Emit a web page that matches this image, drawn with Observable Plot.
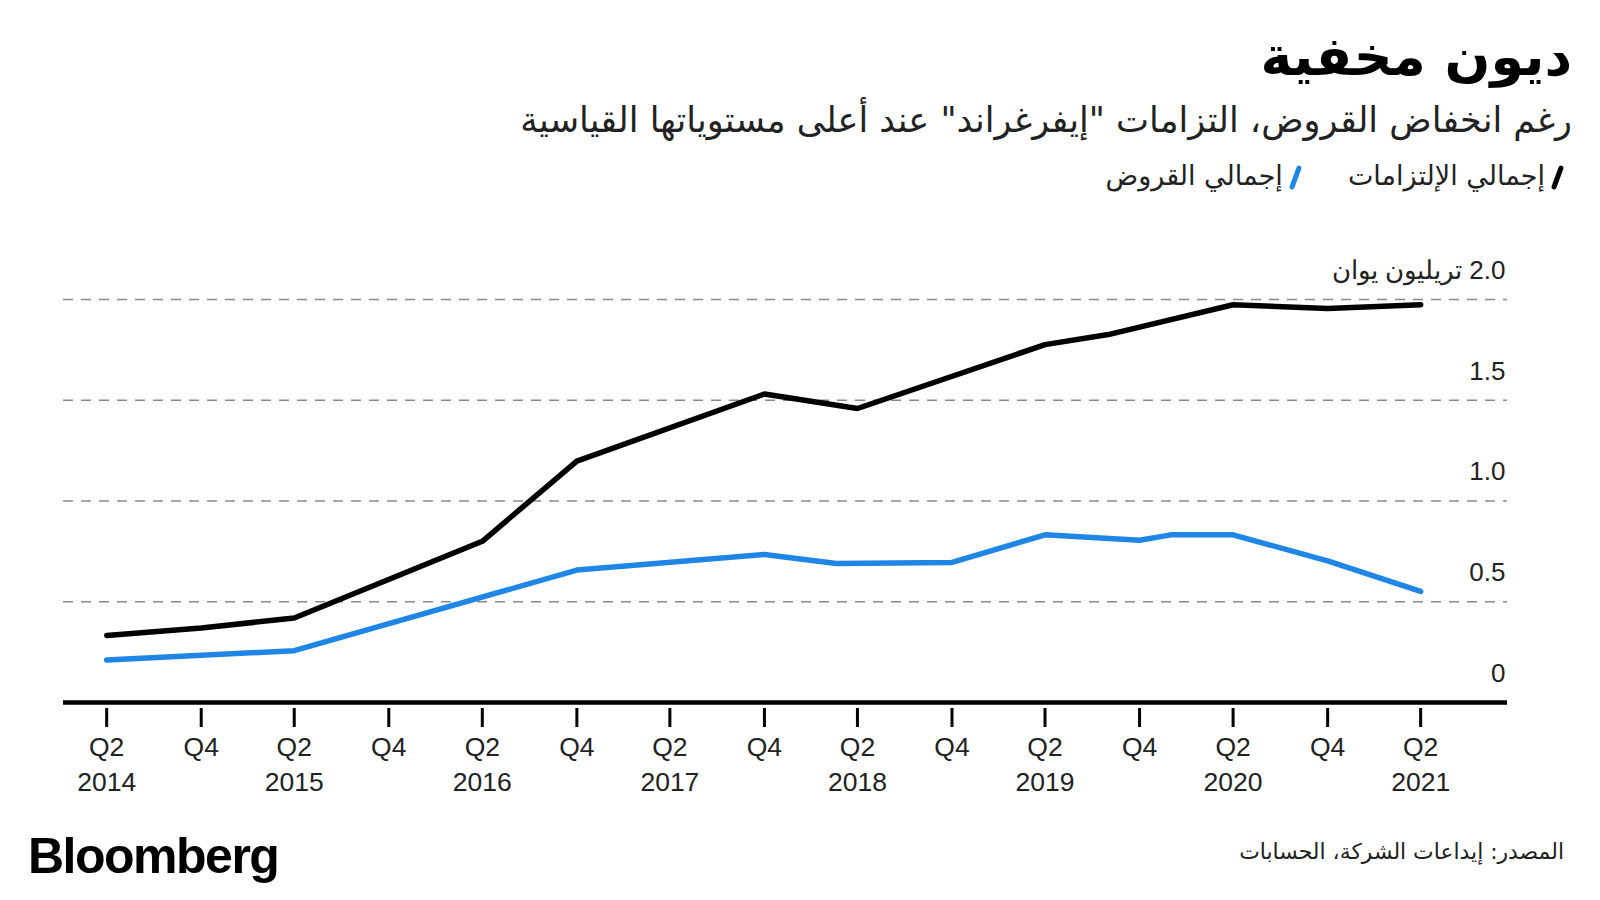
<!DOCTYPE html>
<html><head><meta charset="utf-8">
<script src="https://cdn.jsdelivr.net/npm/d3@7"></script>
<script src="https://cdn.jsdelivr.net/npm/@observablehq/plot@0.6"></script>
<style>
html,body{margin:0;padding:0;background:#fff;}
#wrap{position:relative;width:1600px;height:900px;overflow:hidden;background:#fff;}
.ar{font-family:"DejaVu Sans",sans-serif;direction:rtl;position:absolute;white-space:nowrap;line-height:normal;}
#title{right:28px;top:25px;font-size:53.8px;font-weight:bold;color:#000;}
#subtitle{right:28px;top:99px;font-size:35.1px;color:#222;}
#legend{right:40px;top:160px;font-size:27px;color:#222;display:flex;gap:50px;}
#legend .sw{display:inline-block;width:5px;height:25px;border-radius:3px;transform:rotate(20deg);margin-left:10px;vertical-align:middle;}
#source{right:36px;top:839px;font-size:21.9px;color:#222;}
#logo{position:absolute;left:28px;top:831px;font-family:"Liberation Sans",Arial,sans-serif;font-weight:bold;font-size:50px;letter-spacing:-1.5px;color:#000;line-height:1;}
#chart{position:absolute;left:0;top:240px;}
</style>
</head><body>
<div id="wrap">
  <div id="title" class="ar">ديون مخفية</div>
  <div id="subtitle" class="ar">رغم انخفاض القروض، التزامات "إيفرغراند" عند أعلى مستوياتها القياسية</div>
  <div id="legend" class="ar"><span><i class="sw" style="background:#000"></i>إجمالي الإلتزامات</span><span><i class="sw" style="background:#1f86e6"></i>إجمالي القروض</span></div>
  <div id="chart"></div>
  <div id="logo">Bloomberg</div>
  <div id="source" class="ar">المصدر: إيداعات الشركة، الحسابات</div>
</div>
<script>
// Total liabilities (trillion yuan)
const liabDates  = ["2014-06-30","2014-12-31","2015-06-30","2016-06-30","2016-12-31","2017-12-31","2018-06-30","2019-06-30","2019-10-31","2020-06-30","2020-12-31","2021-06-30"];
const liabValues = [0.333, 0.370, 0.419, 0.800, 1.198, 1.531, 1.459, 1.776, 1.826, 1.974, 1.955, 1.974];
// Total borrowings (trillion yuan)
const loanDates  = ["2014-06-30","2015-06-30","2016-12-31","2017-12-31","2018-05-20","2018-12-31","2019-06-30","2019-12-31","2020-03-01","2020-06-30","2020-12-31","2021-06-30"];
const loanValues = [0.211, 0.257, 0.657, 0.735, 0.690, 0.695, 0.832, 0.805, 0.832, 0.832, 0.703, 0.551];
// Axis ticks
const xTickDates  = ["2014-06-30","2014-12-31","2015-06-30","2015-12-31","2016-06-30","2016-12-31","2017-06-30","2017-12-31","2018-06-30","2018-12-31","2019-06-30","2019-12-31","2020-06-30","2020-12-31","2021-06-30"];
const xTickLabels = ["Q2\n2014","Q4","Q2\n2015","Q4","Q2\n2016","Q4","Q2\n2017","Q4","Q2\n2018","Q4","Q2\n2019","Q4","Q2\n2020","Q4","Q2\n2021"];
const yTicks      = [0, 0.5, 1, 1.5, 2];
const yTickLabels = ["0", "0.5", "1.0", "1.5", "\u202B2.0 تريليون يوان\u202C"];
const xDomain = ["2014-04-07", "2021-12-16"];

const liab = liabDates.map((d, i) => ({date: new Date(d), value: liabValues[i]}));
const loans = loanDates.map((d, i) => ({date: new Date(d), value: loanValues[i]}));
const ticks = xTickDates.map(d => new Date(d));
const labelMap = new Map(ticks.map((d, i) => [+d, xTickLabels[i]]));
const yLabelMap = new Map(yTicks.map((v, i) => [v, yTickLabels[i]]));

const chart = Plot.plot({
  width: 1600,
  height: 560,
  marginLeft: 63,
  marginRight: 93,
  marginTop: 59,
  marginBottom: 92,
  style: {fontFamily: "'Liberation Sans', Arial, sans-serif", fontSize: "26px", color: "#222", background: "transparent", overflow: "visible"},
  x: {type: "utc", domain: xDomain.map(d => new Date(d))},
  y: {domain: [0, 2], insetBottom: 6, axis: null},
  marks: [
    Plot.ruleY(yTicks.filter(v => v > 0), {stroke: "#8a8a8a", strokeWidth: 1.5, strokeDasharray: "10,8"}),
    Plot.ruleY([0], {stroke: "#000", strokeWidth: 4.5}),
    Plot.text(yTicks, {y: d => d, frameAnchor: "right", textAnchor: "end", dx: -2, dy: -29, text: d => yLabelMap.get(d), fill: "#222", fontSize: 26}),
    Plot.axisX({ticks, tickFormat: d => labelMap.get(+d), tickSize: 19, tickPadding: 4, strokeWidth: 3, stroke: "#000", fontSize: 26.5, lineHeight: 1.32, fill: "#222"}),
    Plot.lineY(liab, {x: "date", y: "value", stroke: "#000", strokeWidth: 5.5}),
    Plot.lineY(loans, {x: "date", y: "value", stroke: "#1f86e6", strokeWidth: 5.5})
  ]
});
document.getElementById("chart").appendChild(chart);
</script>
</body></html>
